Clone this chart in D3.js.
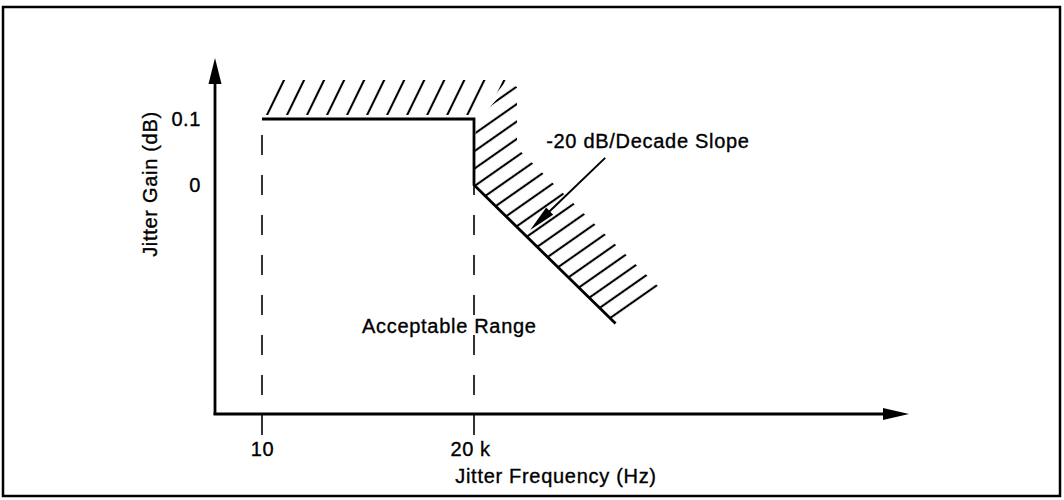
<!DOCTYPE html>
<html>
<head>
<meta charset="utf-8">
<script src="https://cdn.jsdelivr.net/npm/d3@7"></script>
<style>
  body { margin: 0; background: #fff; }
  svg { display: block; }
  text { font-family: "Liberation Sans", Arial, Helvetica, sans-serif; fill: #000; stroke: #000; stroke-width: 0.35px; }
</style>
</head>
<body>
<div id="chart"></div>
<script>
// jitter transfer mask: gain vs frequency (schematic, log freq)
const xTicks = [10, 20000];
const xTickLabels = ["10", "20 k"];
const yTicks = [0.1, 0];
const yTickLabels = ["0.1", "0"];

// mask corners
const maskFreq = [10, 20000, 20000, 3.2e6];
const maskGain = [0.1, 0.1, 0, -0.21];

// annotation arrow tip (data space)
const noteFreq = 1.5e5;
const noteGain = -0.068;
const noteText = "-20 dB/Decade Slope";
const rangeText = "Acceptable Range";
const xTitle = "Jitter Frequency (Hz)";
const yTitle = "Jitter Gain (dB)";

const width = 1064, height = 500;
const axisX = 215, axisY = 414;   // axis origin
const yTop = 58, xRight = 909;    // arrow tips

const svg = d3.select("#chart")
    .append("svg")
    .attr("width", width)
    .attr("height", height)
    .attr("viewBox", [0, 0, width, height]);

const x = d3.scaleLog()
    .domain([10, 20000])
    .range([262, 474]);

const y = d3.scaleLinear()
    .domain([0, 0.1])
    .range([185, 119]);

const mask = maskFreq.map((f, i) => [x(f), y(maskGain[i])]);

// frame
svg.append("rect")
    .attr("x", 3).attr("y", 7)
    .attr("width", 1057).attr("height", 489)
    .attr("fill", "none")
    .attr("stroke", "#000")
    .attr("stroke-width", 2.5);

// hatch patterns
const defs = svg.append("defs");
function hatch(id, w, angle, tx, ty) {
    const p = defs.append("pattern")
        .attr("id", id)
        .attr("patternUnits", "userSpaceOnUse")
        .attr("width", w).attr("height", 10)
        .attr("patternTransform", `translate(${tx},${ty}) rotate(${angle})`);
    [0, w].forEach(px => p.append("line")
        .attr("x1", px).attr("x2", px)
        .attr("y1", -1).attr("y2", 11)
        .attr("stroke", "#000")
        .attr("stroke-width", 2.1));
}

const [p0, p1, p2, p3] = mask;
const off = 79;  // outer edge of hatch band along the slope
const s = (p3[1] - p2[1]) / (p3[0] - p2[0]);
const bandRight = p1[0] + 43;
const outerY = xx => p2[1] - off + (xx - p2[0]) * s;

hatch("hTop", 18, 26, p0[0] + 5, p1[1] - 4);
hatch("hSlope", 14.3, 55, 653, 288);

// top band, cut diagonally at the corner
const topBand = [
    [p0[0] + 3, p1[1] - 4],
    [p0[0] + 20, p1[1] - 39],
    [bandRight - 10, p1[1] - 39],
    [p1[0] + 5, p1[1] - 4]
];
svg.append("path")
    .attr("d", d3.line()(topBand) + "Z")
    .attr("fill", "url(#hTop)");

// band right of the drop and along the slope
const dx = 46, dy = -30;
const t = (outerY(p3[0]) - p3[1]) / (dy - dx * s);
const slopeBand = [
    [p1[0] + 2, p1[1] + 3],
    [bandRight - 6, p1[1] - 35],
    [bandRight, p1[1] - 32],
    [bandRight, outerY(bandRight)],
    [p3[0] + dx * t, p3[1] + dy * t],
    p3,
    p2
];
svg.append("path")
    .attr("d", d3.line()(slopeBand) + "Z")
    .attr("fill", "url(#hSlope)");

// dashed verticals (their last dash is the tick)
svg.selectAll(".vdash")
    .data(xTicks)
    .join("line")
    .attr("class", "vdash")
    .attr("x1", d => x(d)).attr("x2", d => x(d))
    .attr("y1", y(0.1) + 16)
    .attr("y2", axisY + 21)
    .attr("stroke", "#000")
    .attr("stroke-width", 1.6)
    .attr("stroke-dasharray", "20,20");

// mask line
svg.append("path")
    .attr("d", d3.line()(mask))
    .attr("fill", "none")
    .attr("stroke", "#000")
    .attr("stroke-width", 2.8)
    .attr("stroke-linejoin", "miter");

// axes lines + arrows
svg.append("line")
    .attr("x1", axisX).attr("x2", axisX)
    .attr("y1", axisY + 1).attr("y2", yTop + 20)
    .attr("stroke", "#000").attr("stroke-width", 2.8);
svg.append("path")
    .attr("d", `M${axisX},${yTop}L${axisX - 6.5},${yTop + 26}L${axisX + 6.5},${yTop + 26}Z`)
    .attr("fill", "#000");

svg.append("line")
    .attr("x1", axisX - 1.4).attr("x2", xRight - 20)
    .attr("y1", axisY).attr("y2", axisY)
    .attr("stroke", "#000").attr("stroke-width", 2.8);
svg.append("path")
    .attr("d", `M${xRight},${axisY}L${xRight - 26},${axisY - 6}L${xRight - 26},${axisY + 6}Z`)
    .attr("fill", "#000");

// tick labels through d3 axes
const xAxis = g => g
    .attr("transform", `translate(0,${axisY})`)
    .call(d3.axisBottom(x).tickValues(xTicks)
        .tickFormat((d, i) => xTickLabels[i])
        .tickSize(0).tickPadding(28))
    .call(g => g.select(".domain").remove());

const yAxis = g => g
    .attr("transform", `translate(${axisX},0)`)
    .call(d3.axisLeft(y).tickValues(yTicks)
        .tickFormat((d, i) => yTickLabels[i])
        .tickSize(0).tickPadding(14))
    .call(g => g.select(".domain").remove());

svg.append("g").call(xAxis);
svg.append("g").call(yAxis);

svg.selectAll(".tick text")
    .attr("font-family", "Liberation Sans, Arial, sans-serif")
    .attr("font-size", 20)
    .attr("letter-spacing", 0.6)
    .attr("fill", "#000");
svg.selectAll(".tick text").filter(d => d === 20000).attr("dx", -4);

// titles
svg.append("text")
    .attr("x", 556).attr("y", 483)
    .attr("text-anchor", "middle")
    .attr("font-size", 20)
    .attr("letter-spacing", 0.7)
    .text(xTitle);

svg.append("text")
    .attr("transform", "translate(157,184) rotate(-90)")
    .attr("text-anchor", "middle")
    .attr("font-size", 20)
    .attr("letter-spacing", 0.7)
    .text(yTitle);

svg.append("text")
    .attr("x", 362).attr("y", 333)
    .attr("font-size", 20)
    .attr("letter-spacing", 0.7)
    .text(rangeText);

// annotation
const tip = [x(noteFreq), y(noteGain)];
const from = [tip[0] + 75, tip[1] - 72];
const ang = Math.atan2(tip[1] - from[1], tip[0] - from[0]);
const hl = 27, hw = 5;
const base = [tip[0] - hl * Math.cos(ang), tip[1] - hl * Math.sin(ang)];

svg.append("line")
    .attr("x1", from[0]).attr("y1", from[1])
    .attr("x2", base[0] + 4 * Math.cos(ang)).attr("y2", base[1] + 4 * Math.sin(ang))
    .attr("stroke", "#000").attr("stroke-width", 2);
svg.append("path")
    .attr("d", `M${tip[0]},${tip[1]}` +
        `L${base[0] + hw * Math.sin(ang)},${base[1] - hw * Math.cos(ang)}` +
        `L${base[0] - hw * Math.sin(ang)},${base[1] + hw * Math.cos(ang)}Z`)
    .attr("fill", "#000");

svg.append("text")
    .attr("x", tip[0] + 16).attr("y", tip[1] - 82)
    .attr("font-size", 20)
    .attr("letter-spacing", 0.7)
    .text(noteText);
</script>
</body>
</html>
